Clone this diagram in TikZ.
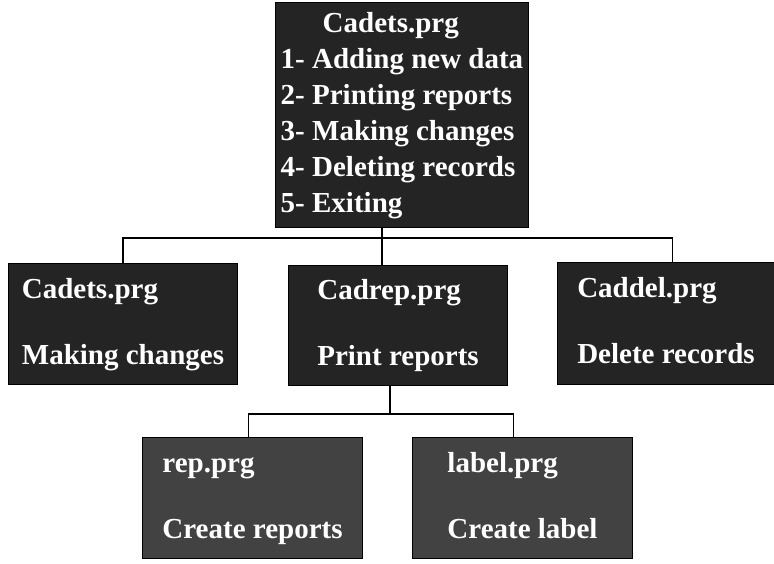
\documentclass[tikz,border=0pt]{standalone}
\usepackage{fontspec}
\setmainfont{Liberation Serif}
\usetikzlibrary{positioning}

\begin{document}
\begin{tikzpicture}[
    x=1pt, y=-1pt,
    line width=1.6pt,
    every node/.style={font=\bfseries\fontsize{29}{36}\selectfont, text=white, align=left},
    prog/.style={draw=black, line width=1pt, fill=black!86, inner xsep=2pt, inner ysep=0pt, minimum width=220pt, minimum height=121pt, anchor=north west},
    subprog/.style={prog, fill=black!74},
    link/.style={-, line width=1.8pt}
]
\useasboundingbox (0,0) rectangle (774,563);
\node[prog, minimum width=253pt, minimum height=225pt] (menu) at (275,2) {\strut\hspace*{42pt}Cadets.prg\\1- Adding new data\\2- Printing reports\\3- Making changes\\4- Deleting records\\5- Exiting\strut};
\node[prog, minimum width=229pt] (change) at (8,263) {\strut Cadets.prg\\[30pt]Making changes\strut};
\node[prog, minimum width=219pt, minimum height=120pt] (report) at (288,265) {\strut Cadrep.prg\\[30pt]Print reports\strut};
\node[prog, minimum width=217pt, minimum height=122pt] (delete) at (557,262) {\strut Caddel.prg\\[30pt]Delete records\strut};
\node[subprog] (rep) at (142,437) {\strut rep.prg\\[30pt]Create reports\strut};
\node[subprog] (label) at (412,437) {\strut label.prg\\[30pt]Create label\strut};
\coordinate (bus1) at (382,238);
\coordinate (bus2) at (390,414);
\draw[link] (bus1 |- menu.south) -- (bus1 |- report.north);
\draw[link] (change.north) |- (bus1) -| ([xshift=6.5pt]delete.north);
\draw[link] (bus2 |- report.south) -- (bus2);
\draw[link] ([xshift=-4pt]rep.north) |- (bus2) -| ([xshift=-9pt]label.north);
\end{tikzpicture}
\end{document}
